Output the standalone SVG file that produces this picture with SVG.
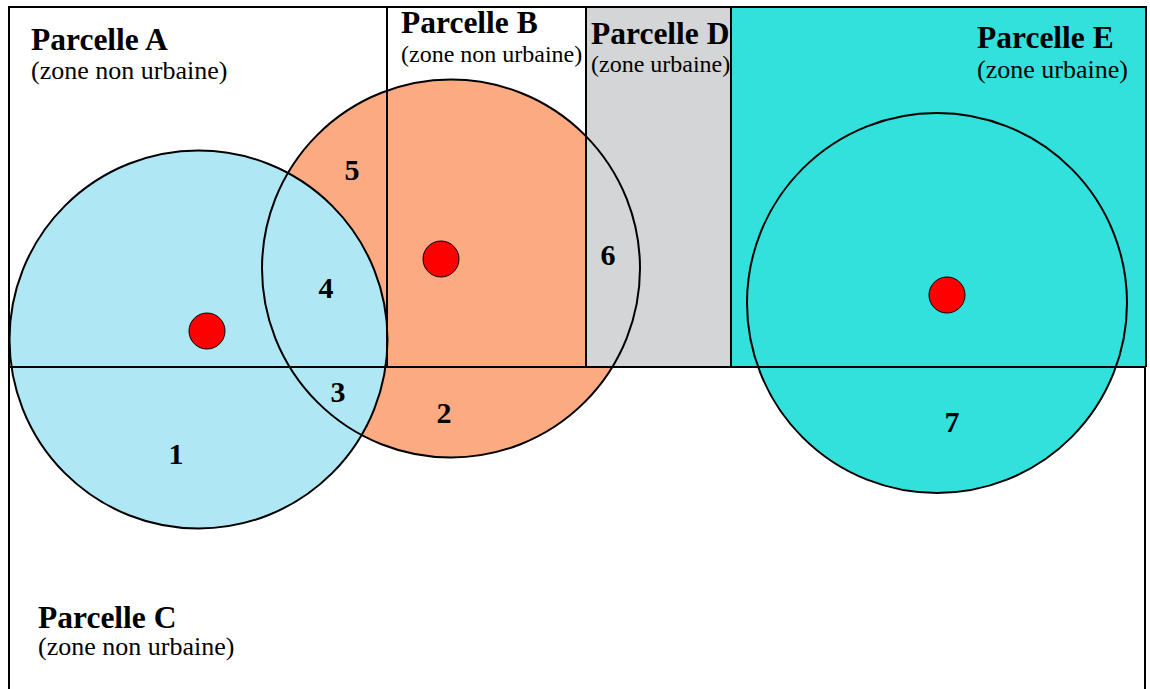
<svg xmlns="http://www.w3.org/2000/svg" width="1150" height="689" viewBox="0 0 1150 689">
<defs>
<style>
.t{font-family:"Liberation Serif","Times New Roman",serif;font-weight:bold;font-size:31.5px;fill:#000}
.s{font-family:"Liberation Serif","Times New Roman",serif;font-size:26px;fill:#000}
.s2{font-size:24px}
.n{font-family:"Liberation Serif","Times New Roman",serif;font-weight:bold;font-size:30px;fill:#000;text-anchor:middle}
.ln{stroke:#000;stroke-width:2;fill:none}
.dot{fill:#ff0000;stroke:#000;stroke-width:1}
</style>
<clipPath id="clipAB"><path d="M0 0 H586 V367 H1150 V689 H0 Z"/></clipPath>
</defs>
<rect x="0" y="0" width="1150" height="689" fill="#fff"/>
<g id="parcelle-D"><rect x="586" y="7" width="145" height="360" fill="#d3d5d6"/></g>
<g id="parcelle-E"><rect x="731" y="7" width="415" height="360" fill="#33e1dc"/></g>
<g id="zone-2-fill"><circle cx="451" cy="268.5" r="189" fill="#fcaa82" clip-path="url(#clipAB)"/></g>
<g id="zone-1-fill"><circle cx="198.5" cy="339.5" r="189" fill="#afe7f5"/></g>
<g id="zone-3-fill"><circle cx="937" cy="303" r="190" fill="#33e1dc"/></g>
<g id="connectors">
<circle class="ln" cx="451" cy="268.5" r="189"/>
<circle class="ln" cx="198.5" cy="339.5" r="189"/>
<circle class="ln" cx="937" cy="303" r="190"/>
<line class="ln" x1="387" y1="7" x2="387" y2="367"/>
<line class="ln" x1="586" y1="7" x2="586" y2="367"/>
<line class="ln" x1="731" y1="7" x2="731" y2="367"/>
<line class="ln" x1="9" y1="367" x2="1146" y2="367"/>
<path class="ln" d="M9 689 V7 H1146 V367 M1145 367 V689"/>
</g>
<g id="centres">
<circle class="dot" cx="207" cy="331" r="18"/>
<circle class="dot" cx="441" cy="259" r="18"/>
<circle class="dot" cx="947" cy="295" r="18"/>
</g>
<g id="label-A"><text class="t" x="31" y="50">Parcelle A</text><text class="s" x="31" y="79">(zone non urbaine)</text></g>
<g id="label-B"><text class="t" x="401" y="33">Parcelle B</text><text class="s s2" x="401" y="62">(zone non urbaine)</text></g>
<g id="label-D"><text class="t" x="591" y="44">Parcelle D</text><text class="s s2" x="591" y="72">(zone urbaine)</text></g>
<g id="label-E"><text class="t" x="977" y="48">Parcelle E</text><text class="s" x="977" y="78">(zone urbaine)</text></g>
<g id="label-C"><text class="t" x="38" y="628">Parcelle C</text><text class="s" x="38" y="655">(zone non urbaine)</text></g>
<g id="numbers">
<text class="n" x="176" y="464">1</text>
<text class="n" x="444" y="423">2</text>
<text class="n" x="338" y="402">3</text>
<text class="n" x="326" y="298">4</text>
<text class="n" x="352" y="180">5</text>
<text class="n" x="608" y="265">6</text>
<text class="n" x="952" y="432">7</text>
</g>
</svg>
